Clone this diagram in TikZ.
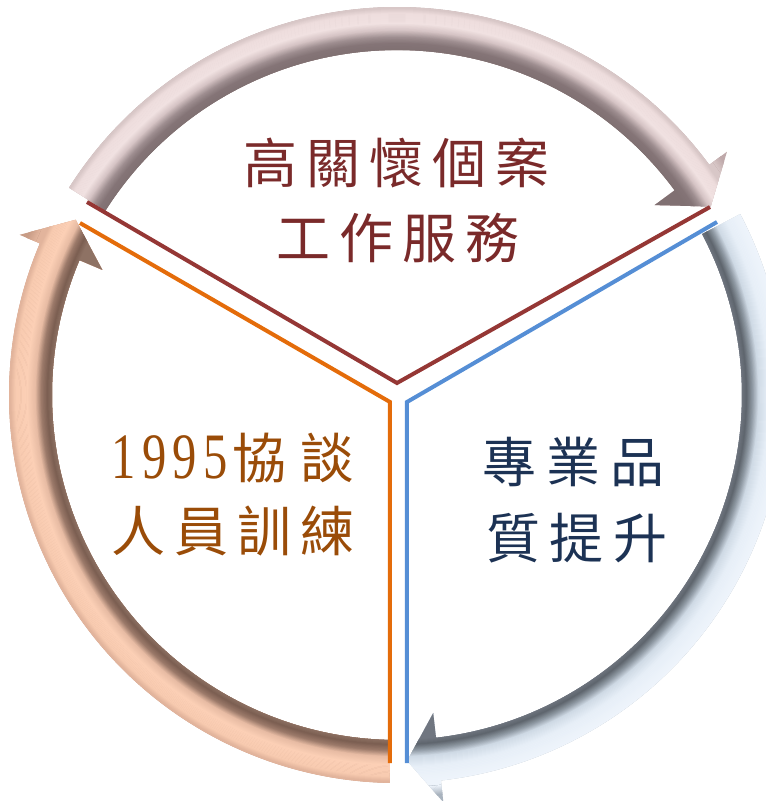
\documentclass[tikz,border=0pt]{standalone}
\usepackage{fontspec}
\usepackage{graphicx}
\newfontfamily\cjk{Noto Sans CJK TC}
\newfontfamily\dgt{Liberation Serif}
\definecolor{topred}{HTML}{7A2A2A}
\definecolor{leftbrown}{HTML}{9A4C08}
\definecolor{rightnavy}{HTML}{1C3254}
\definecolor{lnred}{HTML}{953735}
\definecolor{lnorange}{HTML}{E46C0A}
\definecolor{lnblue}{HTML}{558ED5}
% top arrow (pink grey)
\definecolor{ta}{HTML}{807072}\definecolor{tb}{HTML}{857577}\definecolor{tc}{HTML}{9E8E90}
\definecolor{td}{HTML}{D6C4C5}\definecolor{te}{HTML}{F1E2E2}\definecolor{tf}{HTML}{EEDDDD}
\definecolor{tg}{HTML}{D8C7C7}\definecolor{th}{HTML}{BFA9AA}
% left arrow (peach)
\definecolor{la}{HTML}{8E7264}\definecolor{lb}{HTML}{7C5F52}\definecolor{lc}{HTML}{9C7A6A}
\definecolor{ld}{HTML}{E8BCA4}\definecolor{le}{HTML}{FCD0B6}\definecolor{lf}{HTML}{F8CBB0}
\definecolor{lg}{HTML}{E2B49C}\definecolor{lh}{HTML}{C89C86}
% right arrow (blue grey)
\definecolor{ra}{HTML}{707680}\definecolor{rb}{HTML}{5F666E}\definecolor{rc}{HTML}{8F99A3}
\definecolor{rd}{HTML}{CFDAE5}\definecolor{re}{HTML}{E6EEF7}\definecolor{rf}{HTML}{EEF4FB}
\definecolor{rh}{HTML}{A9B3BE}
% radial band between radii #1 and #2, colour #3 -> #4
\newcommand\bandseg[4]{%
  \foreach \i in {0,...,10}{%
    \pgfmathsetmacro\rr{#1+(#2-#1)*\i/10}%
    \pgfmathsetmacro\pp{10*\i}%
    \draw[line width=1.3pt, color=#4!\pp!#3] (0,0) circle[radius=\rr pt];
  }}
\newcommand\topbands{%
  \fill[th] (0,0) circle[radius=420pt];
  \fill[tg] (0,0) circle[radius=392pt];
  \fill[ta] (0,0) circle[radius=345pt];
  \bandseg{345}{352}{ta}{tb}\bandseg{352}{358}{tb}{tc}\bandseg{358}{365}{tc}{td}%
  \bandseg{365}{372}{td}{te}\bandseg{372}{382}{te}{tf}\bandseg{382}{387}{tf}{tg}%
  \bandseg{393}{402}{tg}{th}}
\newcommand\leftbands{%
  \fill[lh] (0,0) circle[radius=420pt];
  \fill[lg] (0,0) circle[radius=392pt];
  \fill[la] (0,0) circle[radius=345pt];
  \bandseg{345}{350}{la}{lb}\bandseg{350}{356}{lb}{lc}\bandseg{356}{362}{lc}{ld}%
  \bandseg{362}{370}{ld}{le}\bandseg{370}{382}{le}{lf}\bandseg{382}{387}{lf}{lg}%
  \bandseg{393}{402}{lg}{lh}}
\newcommand\rightbands{%
  \fill[rh] (0,0) circle[radius=420pt];
  \fill[rf] (0,0) circle[radius=392pt];
  \fill[ra] (0,0) circle[radius=345pt];
  \bandseg{345}{350}{ra}{rb}\bandseg{350}{356}{rb}{rc}\bandseg{356}{362}{rc}{rd}%
  \bandseg{362}{372}{rd}{re}\bandseg{372}{387}{re}{rf}\bandseg{393}{402}{rf}{rh}}
\newcommand\ringarrow[4]{%
  \begin{scope}
    \clip (#1:388pt) arc[start angle=#1, end angle=#2, radius=388pt]
      -- (#2:410pt) -- (#3:366pt) -- (#2:320pt) -- (#2:345pt)
      arc[start angle=#2, end angle=#1, radius=345pt] -- cycle;
    #4
  \end{scope}}
\newcommand\ks{\kern9pt}
\begin{document}
\begin{tikzpicture}[x=1pt,y=1pt,
  conn/.style={line width=4pt, line join=miter, line cap=butt},
  lbl/.style={font=\cjk\fontsize{54pt}{60pt}\selectfont, inner sep=0pt}]
\useasboundingbox (-397,-406) rectangle (369,395);
% ring arrows
\ringarrow{147.7}{36.4}{31}{\topbands}
\ringarrow{27.8}{-83.5}{-88.4}{\rightbands}
\ringarrow{-91.1}{-203}{-208.6}{\leftbands}
% Y dividers
\coordinate (r1) at (-310,193);
\coordinate (rc) at (0,12);
\coordinate (r2) at (313,188);
\coordinate (o1) at (-317,172);
\coordinate (oc) at (-7,-7);
\coordinate (o2) at (-7,-368);
\coordinate (b1) at (320,173);
\coordinate (bc) at (10,-7);
\coordinate (b2) at (10,-368);
\draw[conn, lnred] (r1) -- (rc) -- (r2);
\draw[conn, lnorange] (o1) -- (oc) -- (o2);
\draw[conn, lnblue] (b1) -- (bc) -- (b2);
% labels
\node[lbl, text=topred] (t1) at (0,232) {高\ks 關\ks 懷\ks 個\ks 案};
\node[lbl, text=topred] (t2) at (1,157) {工\ks 作\ks 服\ks 務};
\node[lbl, text=leftbrown] (l1) at (-164,-63) {\scalebox{0.9}[1.2]{\dgt 1\kern7pt 9\kern7pt 9\kern7pt 5}\kern5pt 協\kern14pt 談};
\node[lbl, text=leftbrown] (l2) at (-164,-136) {人\ks 員\ks 訓\ks 練};
\node[lbl, text=rightnavy] (g1) at (177,-67) {專\kern10pt 業\kern10pt 品};
\node[lbl, text=rightnavy] (g2) at (180,-143) {質\kern10pt 提\kern10pt 升};
\end{tikzpicture}
\end{document}
